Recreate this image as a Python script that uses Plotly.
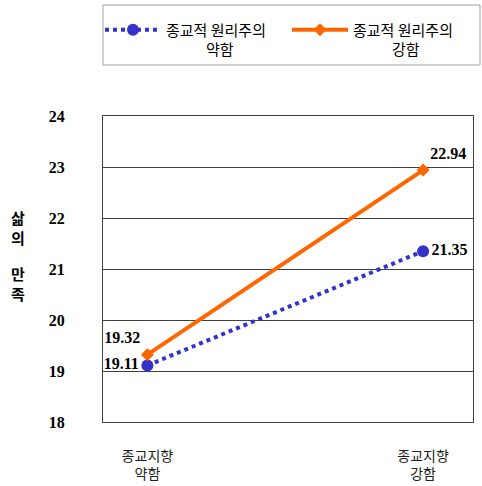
import plotly.graph_objects as go

# Interaction plot: life satisfaction by religious orientation and fundamentalism
categories = ["종교지향<br>약함", "종교지향<br>강함"]
cat_pos = [0, 1]
weak_fund = [19.11, 21.35]
strong_fund = [19.32, 22.94]
y_ticks = [18, 19, 20, 21, 22, 23, 24]
series_names = ["종교적 원리주의", "종교적 원리주의"]
series_levels = ["약함", "강함"]

serif_bold = dict(family="Liberation Serif", size=16, color="black", weight="bold")
kr_font = dict(family="Noto Sans CJK KR", size=15, color="black")

fig = go.Figure()
fig.add_trace(go.Scatter(
    x=cat_pos, y=weak_fund, name=series_names[0], mode="lines+markers+text",
    line=dict(color="#3333CC", width=4, dash="dot"),
    marker=dict(symbol="circle", size=12, color="#3333CC"),
    text=[f"{v:.2f}" for v in weak_fund],
    textposition=["middle left", "middle right"],
    textfont=serif_bold, legend="legend",
))
fig.add_trace(go.Scatter(
    x=cat_pos, y=strong_fund, name=series_names[1], mode="lines+markers+text",
    line=dict(color="#FF6600", width=4),
    marker=dict(symbol="diamond", size=10, color="#FF6600"),
    text=[f"{v:.2f}" for v in strong_fund],
    textposition=["top left", "top right"],
    textfont=serif_bold, legend="legend2",
))

title_font = dict(family="Noto Sans CJK KR", size=15, color="black", weight="bold")

H = 306.0  # plot height in px
W = 370.0  # plot width in px


def px_x(x):
    return (x - 103) / W


def px_y(y):
    return (422 - y) / H


legend_common = dict(
    orientation="h", xanchor="left", yanchor="middle", itemwidth=56,
    bgcolor="rgba(0,0,0,0)", borderwidth=0, font=kr_font, valign="middle",
)


def level_note(text, xc):
    return dict(text=text, xref="paper", yref="paper", x=px_x(xc), y=px_y(49),
                xanchor="center", yanchor="middle", showarrow=False,
                font=kr_font)


fig.update_layout(
    width=482, height=486,
    margin=dict(l=103, r=9, t=116, b=64, autoexpand=False),
    paper_bgcolor="white", plot_bgcolor="white",
    showlegend=True,
    legend=dict(x=px_x(100), y=px_y(30), **legend_common),
    legend2=dict(x=px_x(287), y=px_y(30), **legend_common),
    shapes=[dict(
        type="rect", xref="paper", yref="paper",
        x0=px_x(103), x1=px_x(480), y0=px_y(65), y1=px_y(5),
        line=dict(color="#A0A0A0", width=1), fillcolor="rgba(0,0,0,0)",
    )],
    xaxis=dict(
        range=[-0.161, 1.181], tickvals=cat_pos, ticktext=categories,
        tickfont=dict(family="Noto Sans CJK KR", size=14, color="#222"),
        showgrid=False, zeroline=False, showline=True, linecolor="#404040",
        linewidth=1, mirror=True, ticks="", ticklabelstandoff=21,
        automargin=False,
    ),
    yaxis=dict(
        range=[18, 24], tickvals=y_ticks,
        tickfont=serif_bold, showgrid=True, gridcolor="#404040", gridwidth=1,
        zeroline=False, showline=True, linecolor="#404040", linewidth=1,
        mirror=True, ticks="", ticklabelstandoff=34, automargin=False,
    ),
    annotations=[
        dict(text="삶<br>의", xref="paper", yref="paper", x=px_x(18), y=px_y(227),
             xanchor="center", yanchor="middle", showarrow=False,
             font=title_font, align="center"),
        dict(text="만<br>족", xref="paper", yref="paper", x=px_x(18), y=px_y(283),
             xanchor="center", yanchor="middle", showarrow=False,
             font=title_font, align="center"),
        level_note(series_levels[0], 220),
        level_note(series_levels[1], 406),
    ],
)

fig.write_html("out.html")
